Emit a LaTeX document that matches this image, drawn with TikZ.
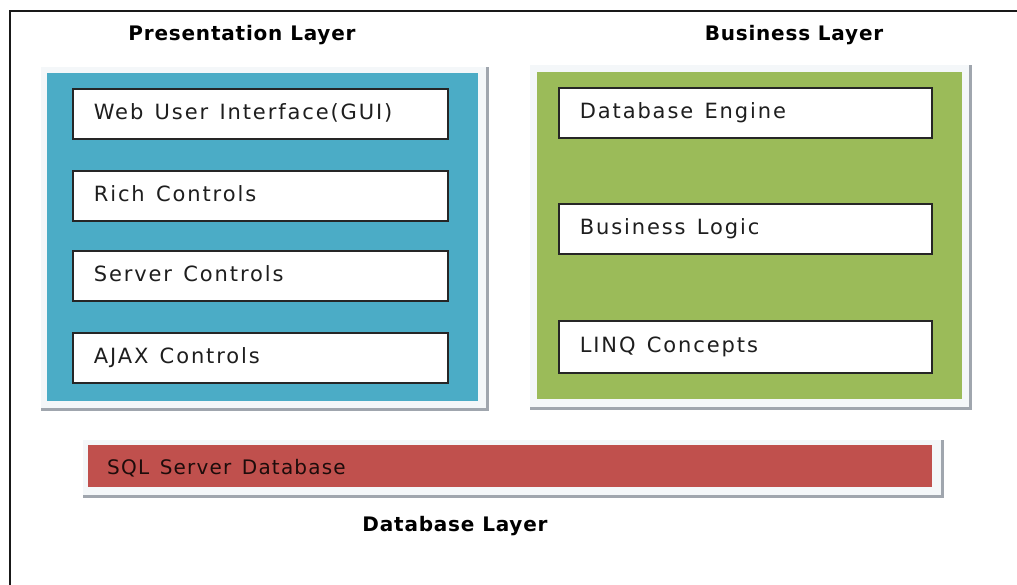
\documentclass[tikz,border=0pt]{standalone}
\usepackage{fontspec}
\setmainfont{DejaVu Sans}
\newfontfamily\itemfont[LetterSpace=9,WordSpace=1.7]{DejaVu Sans}
\newfontfamily\sqlfont[LetterSpace=6,WordSpace=1.4]{DejaVu Sans}
\newfontfamily\headfont[LetterSpace=4]{DejaVu Sans Bold}
\definecolor{presblue}{RGB}{75,172,198}
\definecolor{busgreen}{RGB}{155,187,89}
\definecolor{dbred}{RGB}{192,80,77}
\definecolor{framelight}{RGB}{244,247,249}
\definecolor{shadowgrey}{RGB}{160,166,174}
\definecolor{textdark}{RGB}{30,30,30}
\begin{document}
\begin{tikzpicture}[x=1pt,y=-1pt,
  frame/.style={fill=framelight, draw=none, anchor=north west, inner sep=0pt},
  shadowline/.style={draw=shadowgrey, line width=3pt},
  layerbox/.style={draw=none, anchor=north west, inner sep=0pt},
  itembox/.style={draw=black!85, line width=1.6pt, fill=white, anchor=north west,
    minimum height=50pt, inner xsep=21pt, inner ysep=0pt, align=left,
    text height=15pt, text depth=4pt, font=\itemfont\fontsize{21pt}{25pt}\selectfont, text=textdark,
    execute at begin node={\spaceskip=0.54em plus 0.1em\relax}},
  heading/.style={font=\headfont\fontsize{20pt}{24pt}\selectfont, text=black, anchor=base, inner sep=0pt},
  border/.style={draw=black!90, line width=1.5pt}
]
\useasboundingbox (0,0) rectangle (1017,585);
\fill[white] (0,0) rectangle (1017,585);

% outer page border (top and left)
\coordinate (bl) at (10,585);
\coordinate (tl) at (10,11);
\coordinate (tr) at (1017,11);
\draw[border] (bl) -- (tl) -- (tr);

% headings
\node[heading] (ptitle) at (242,41) {Presentation Layer};
\node[heading] (btitle) at (794,41) {Business Layer};
\node[heading] (dtitle) at (455,531) {Database Layer};

% presentation layer
\node[frame, minimum width=446pt, minimum height=342pt] (pframe) at (41,67) {};
\draw[shadowline] (pframe.south west) -| (pframe.north east);
\node[layerbox, fill=presblue, minimum width=431pt, minimum height=328pt] (pres) at (47,73) {};
\node[itembox, text width=333pt] (web) at (72,88) {Web User Interface(GUI)};
\node[itembox, text width=333pt] (rich) at (72,170) {Rich Controls};
\node[itembox, text width=333pt] (server) at (72,250) {Server Controls};
\node[itembox, text width=333pt] (ajax) at (72,332) {AJAX Controls};

% business layer
\node[frame, minimum width=440pt, minimum height=343pt] (bframe) at (530,65) {};
\draw[shadowline] (bframe.south west) -| (bframe.north east);
\node[layerbox, fill=busgreen, minimum width=425pt, minimum height=327pt] (bus) at (537,72) {};
\node[itembox, text width=331pt] (engine) at (558,87) {Database Engine};
\node[itembox, text width=331pt] (logic) at (558,203) {Business Logic};
\node[itembox, text width=331pt, minimum height=52pt] (linq) at (558,320) {LINQ Concepts};

% database layer
\node[frame, minimum width=859pt, minimum height=56pt] (dframe) at (83,440) {};
\draw[shadowline] (dframe.south west) -| (dframe.north east);
\node[layerbox, fill=dbred, minimum width=844pt, minimum height=42pt] (db) at (88,445) {};
\node[anchor=base west, inner sep=0pt, font=\sqlfont\fontsize{20pt}{24pt}\selectfont, text=black!85!dbred] (sql) at (107,474) {SQL Server Database};
\end{tikzpicture}
\end{document}
